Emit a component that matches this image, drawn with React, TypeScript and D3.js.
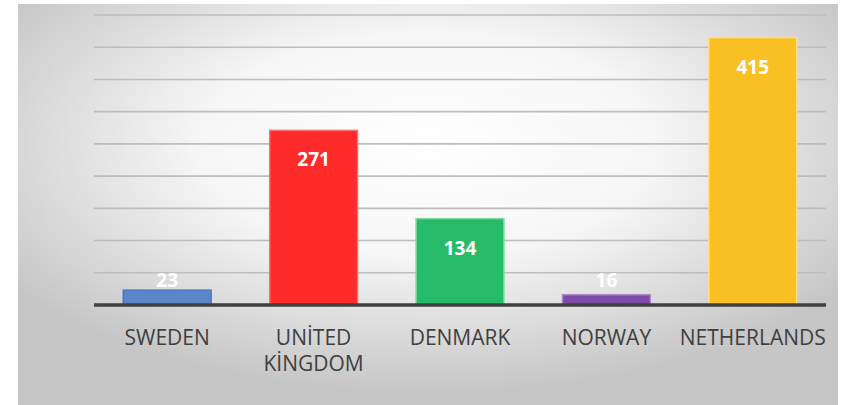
import React from 'react';
import * as d3 from 'd3';

const countries = ['SWEDEN', 'UNİTED KİNGDOM', 'DENMARK', 'NORWAY', 'NETHERLANDS'];
const counts = [23, 271, 134, 16, 415];
const barColors = ['#5B86C9', '#FF2A2A', '#27BB69', '#7E4AA8', '#F8C022'];
const barStrokes = ['#4A78C2', '#FF7070', '#7FD8A4', '#A98CC4', '#FBDD8A'];
const yTicks = [0, 50, 100, 150, 200, 250, 300, 350, 400, 450];

const W = 844;
const H = 405;

export default function App() {
  const x = d3.scaleBand<string>()
    .domain(countries)
    .range([94, 826])
    .paddingInner(0.4)
    .paddingOuter(0.2);

  const y = d3.scaleLinear()
    .domain([0, 450])
    .range([305, 15]);

  const labelFont = "'Open Sans', 'DejaVu Sans', sans-serif";

  return (
    <svg width={W} height={H} style={{ position: 'absolute', left: 0, top: 0, display: 'block' }}>
      <defs>
        <radialGradient id="bg" cx="0.5" cy="0.35" r="0.62" fx="0.5" fy="0.35">
          <stop offset="0" stopColor="#ffffff" />
          <stop offset="0.45" stopColor="#f6f6f6" />
          <stop offset="1" stopColor="#c6c6c6" />
        </radialGradient>
      </defs>
      <rect x={0} y={0} width={W} height={H} fill="#ffffff" />
      <rect x={18} y={4} width={820} height={H - 4} fill="url(#bg)" />

      {/* gridlines */}
      {yTicks.slice(1).map(t => (
        <line key={t} x1={94} x2={826} y1={y(t)} y2={y(t)} stroke="#bdbdbd" strokeWidth={1.6} />
      ))}

      {/* bars */}
      {countries.map((c, i) => (
        <rect
          key={c}
          x={x(c)!}
          y={y(counts[i])}
          width={x.bandwidth()}
          height={y(0) - y(counts[i])}
          fill={barColors[i]}
          stroke={barStrokes[i]}
          strokeWidth={1.5}
        />
      ))}

      {/* axis line */}
      <line x1={94} x2={826} y1={y(0)} y2={y(0)} stroke="#404040" strokeWidth={3.5} />

      {/* value labels */}
      {countries.map((c, i) => (
        <text
          key={c}
          x={x(c)! + x.bandwidth() / 2}
          y={Math.min(y(counts[i]) + 29, y(0) - 25)}
          textAnchor="middle"
          dominantBaseline="central"
          fill="#ffffff"
          fontFamily={labelFont}
          fontWeight="bold"
          fontSize={19}
        >
          {counts[i]}
        </text>
      ))}

      {/* category labels */}
      {countries.map(c => {
        const words = c.split(' ');
        return (
          <text
            key={c}
            x={x(c)! + x.bandwidth() / 2}
            y={337}
            textAnchor="middle"
            dominantBaseline="central"
            fill="#404040"
            fontFamily={labelFont}
            fontSize={21}
          >
            {words.map((w, j) => (
              <tspan key={w} x={x(c)! + x.bandwidth() / 2} dy={j === 0 ? 0 : 26}>{w}</tspan>
            ))}
          </text>
        );
      })}
    </svg>
  );
}
